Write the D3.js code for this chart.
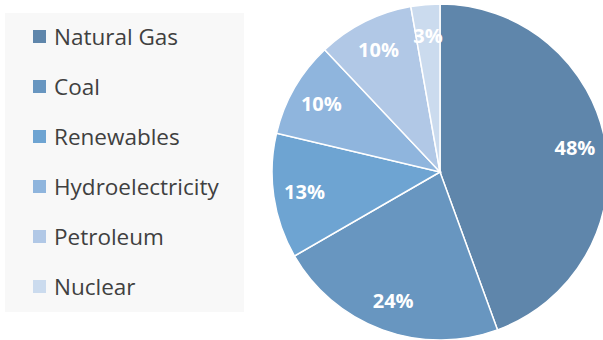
<!DOCTYPE html>
<html>
<head>
<meta charset="utf-8">
<script src="https://cdn.jsdelivr.net/npm/d3@7"></script>
<style>
  body { margin: 0; background: #fff; }
  svg { display: block; }
</style>
</head>
<body>
<div class="svg-container"></div>
<script>
// chart data
const categories = ['Natural Gas', 'Coal', 'Renewables', 'Hydroelectricity', 'Petroleum', 'Nuclear'];
const shares = [48, 24, 13, 10, 10, 3];
const colors = ['#5f86ab', '#6896c0', '#6ea4d2', '#8fb5dd', '#b1c8e6', '#cbdbee'];

const renderPie = () => {
  // set up required dimensions
  const width = 603;
  const height = 340;
  const cx = 440;
  const cy = 172;
  const radius = 168;
  const labelRadius = 137;

  const svg = d3.select('.svg-container')
    .append('svg')
    .attr('width', width)
    .attr('height', height);

  // legend background
  svg.append('rect')
    .attr('x', 5)
    .attr('y', 13)
    .attr('width', 239)
    .attr('height', 299)
    .style('fill', '#f8f8f8');

  const color = d3.scaleOrdinal().domain(categories).range(colors);

  const rows = d3.scaleBand()
    .domain(categories)
    .range([12, 312]);

  const legend = svg.append('g')
    .selectAll('g')
    .data(categories)
    .enter()
    .append('g')
    .attr('transform', d => `translate(0, ${rows(d) + rows.bandwidth() / 2})`);

  legend.append('rect')
    .attr('x', 33)
    .attr('y', -7)
    .attr('width', 13)
    .attr('height', 13)
    .style('fill', d => color(d));

  legend.append('text')
    .attr('x', 54)
    .attr('y', 0)
    .attr('dy', '0.35em')
    .style('font-family', '"Open Sans", sans-serif')
    .style('font-size', '22.5px')
    .style('fill', '#404040')
    .text(d => d);

  // pie slices
  const pie = d3.pie().sort(null).value(d => d.value);
  const arcs = pie(categories.map((c, i) => ({ name: c, value: shares[i] })));

  const arc = d3.arc().innerRadius(0).outerRadius(radius);
  const labelArc = d3.arc().innerRadius(labelRadius).outerRadius(labelRadius);

  const g = svg.append('g').attr('transform', `translate(${cx}, ${cy})`);

  g.selectAll('path')
    .data(arcs)
    .enter()
    .append('path')
    .attr('d', arc)
    .style('fill', d => color(d.data.name))
    .attr('stroke', '#fff')
    .attr('stroke-width', 1.5);

  g.selectAll('text')
    .data(arcs)
    .enter()
    .append('text')
    .attr('transform', d => `translate(${labelArc.centroid(d)})`)
    .attr('text-anchor', 'middle')
    .attr('dy', '0.35em')
    .style('font-family', '"Open Sans", sans-serif')
    .style('font-weight', 'bold')
    .style('font-size', '20px')
    .style('fill', '#fff')
    .text(d => `${d.data.value}%`);
};

renderPie();
</script>
</body>
</html>
